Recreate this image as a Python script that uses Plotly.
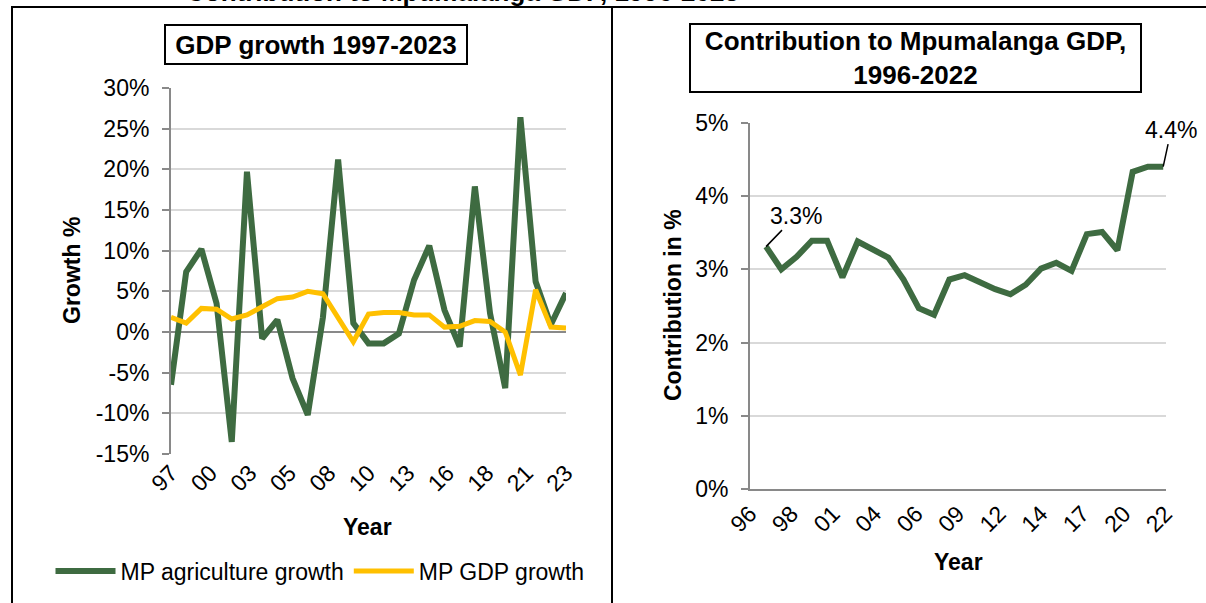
import plotly.graph_objects as go
import numpy as np

W, H = 1206, 603

# ---------------- data ----------------
years_growth = list(range(1997, 2024))
agri_growth = [-6.5, 7.4, 10.2, 3.5, -13.5, 19.7, -0.8, 1.5, -5.7, -10.2, 1.8, 21.2, 1.1,
               -1.4, -1.4, -0.2, 6.4, 10.6, 2.7, -1.8, 17.9, 2.3, -6.9, 26.4, 6.2, 0.9, 4.8]
gdp_growth = [1.8, 1.1, 2.9, 2.8, 1.6, 2.1, 3.1, 4.1, 4.3, 5.0, 4.7, 1.8, -1.2,
              2.2, 2.4, 2.4, 2.1, 2.1, 0.6, 0.7, 1.4, 1.3, 0.0, -5.3, 5.2, 0.6, 0.5]
growth_ticktext = ["97", "00", "03", "05", "08", "10", "13", "16", "18", "21", "23"]
growth_yticks = [-15, -10, -5, 0, 5, 10, 15, 20, 25, 30]

years_contrib = list(range(1996, 2023))
contrib = [3.31, 3.00, 3.17, 3.39, 3.39, 2.89, 3.38, 3.26, 3.16, 2.86, 2.47, 2.38, 2.86, 2.92,
           2.82, 2.73, 2.66, 2.79, 3.01, 3.09, 2.98, 3.48, 3.51, 3.26, 4.33, 4.40, 4.40]
contrib_ticktext = ["96", "98", "01", "04", "06", "09", "12", "14", "17", "20", "22"]
contrib_yticks = [0, 1, 2, 3, 4, 5]

GREEN = "#3E6B41"
YELLOW = "#FFC000"
GRID = "#D9D9D9"
AXIS = "#898989"
FONT = "Liberation Sans, Arial, sans-serif"


def px(x):
    return x / W


def py(y):
    return 1 - y / H


fig = go.Figure()
fig.add_trace(go.Scatter(x=years_growth, y=agri_growth, mode="lines", name="MP agriculture growth",
                         line=dict(color=GREEN, width=6), xaxis="x", yaxis="y"))
fig.add_trace(go.Scatter(x=years_growth, y=gdp_growth, mode="lines", name="MP GDP growth",
                         line=dict(color=YELLOW, width=5), xaxis="x", yaxis="y"))
fig.add_trace(go.Scatter(x=years_contrib, y=contrib, mode="lines", name="Contribution",
                         line=dict(color=GREEN, width=6), xaxis="x2", yaxis="y2", showlegend=False))

gx0, gx1 = years_growth[0], years_growth[-1]
cx0, cx1 = 1994.95, 2022.15

tick_font = dict(family=FONT, size=23, color="black")

fig.update_layout(
    template="none",
    width=W, height=H, autosize=False,
    margin=dict(l=0, r=0, t=0, b=0, pad=0, autoexpand=False),
    paper_bgcolor="white", plot_bgcolor="white",
    font=dict(family=FONT, color="black"),
    xaxis=dict(domain=[px(171), px(566)], range=[gx0, gx1], automargin=False,
               tickmode="array", tickvals=list(np.linspace(gx0, gx1, len(growth_ticktext))),
               ticktext=growth_ticktext, tickangle=-45, tickfont=tick_font,
               showgrid=False, zeroline=False, showline=False, ticks="", anchor="y"),
    yaxis=dict(domain=[py(454), py(88)], range=[-15, 30], automargin=False,
               tickmode="array", tickvals=growth_yticks,
               ticktext=[f"{v}%" for v in growth_yticks], tickfont=tick_font,
               showgrid=True, gridcolor=GRID, gridwidth=2,
               zeroline=True, zerolinecolor=AXIS, zerolinewidth=2,
               showline=True, linecolor=AXIS, linewidth=2,
               ticks="outside", ticklen=7, tickwidth=2, tickcolor=AXIS,
               ticklabelstandoff=8, anchor="x"),
    xaxis2=dict(domain=[px(750), px(1165.5)], range=[cx0, cx1], automargin=False,
                tickmode="array", tickvals=list(np.linspace(cx0, cx1, len(contrib_ticktext))),
                ticktext=contrib_ticktext, tickangle=-45, tickfont=tick_font,
                showgrid=False, zeroline=False, showline=True, linecolor=AXIS, linewidth=2,
                ticks="", anchor="y2"),
    yaxis2=dict(domain=[py(489.3), py(122.7)], range=[0, 5], automargin=False,
                tickmode="array", tickvals=contrib_yticks,
                ticktext=[f"{v}%" for v in contrib_yticks], tickfont=tick_font,
                showgrid=True, gridcolor=GRID, gridwidth=2, zeroline=False,
                showline=True, linecolor=AXIS, linewidth=2,
                ticks="outside", ticklen=7, tickwidth=2, tickcolor=AXIS,
                ticklabelstandoff=8, anchor="x2"),
    legend=dict(orientation="h", x=px(320), xanchor="center", y=py(571), yanchor="middle",
                font=dict(family=FONT, size=23, color="black"), itemwidth=60,
                bgcolor="rgba(0,0,0,0)", borderwidth=0),
    showlegend=True,
)

# table borders
line = dict(color="black", width=2)
fig.add_shape(type="line", xref="paper", yref="paper", x0=px(11), x1=1, y0=py(7), y1=py(7), line=line)
fig.add_shape(type="line", xref="paper", yref="paper", x0=px(12), x1=px(12), y0=0, y1=py(7), line=line)
fig.add_shape(type="line", xref="paper", yref="paper", x0=px(612), x1=px(612), y0=0, y1=py(7), line=line)

annots = []
# cut-off document heading
annots.append(dict(text="<b>Contribution to Mpumalanga GDP, 1996-2023</b>", xref="paper", yref="paper",
                   x=px(462), y=py(8), xanchor="center", yanchor="bottom", showarrow=False,
                   borderpad=0, font=dict(family=FONT, size=26, color="black")))
# chart titles
annots.append(dict(text="<b>GDP growth 1997-2023</b>", xref="paper", yref="paper",
                   x=px(316), y=py(44), xanchor="center", yanchor="middle", showarrow=False,
                   width=298, height=35, borderpad=1, bordercolor="black", borderwidth=2,
                   bgcolor="white", font=dict(family=FONT, size=26, color="black")))
annots.append(dict(text="<b>Contribution to Mpumalanga GDP,<br>1996-2022</b>", xref="paper", yref="paper",
                   x=px(915.5), y=py(58), xanchor="center", yanchor="middle", showarrow=False,
                   width=447, height=64, borderpad=1, bordercolor="black", borderwidth=2,
                   bgcolor="white", font=dict(family=FONT, size=26, color="black")))
# axis titles
annots.append(dict(text="<b>Growth %</b>", xref="paper", yref="paper", x=px(72), y=py(271),
                   xanchor="center", yanchor="middle", textangle=-90, showarrow=False,
                   font=dict(family=FONT, size=23, color="black")))
annots.append(dict(text="<b>Year</b>", xref="paper", yref="paper", x=px(367), y=py(527),
                   xanchor="center", yanchor="middle", showarrow=False,
                   font=dict(family=FONT, size=23, color="black")))
annots.append(dict(text="<b>Contribution in %</b>", xref="paper", yref="paper", x=px(673), y=py(305),
                   xanchor="center", yanchor="middle", textangle=-90, showarrow=False,
                   font=dict(family=FONT, size=23, color="black")))
annots.append(dict(text="<b>Year</b>", xref="paper", yref="paper", x=px(958), y=py(562),
                   xanchor="center", yanchor="middle", showarrow=False,
                   font=dict(family=FONT, size=23, color="black")))
# data labels
annots.append(dict(text=f"{contrib[0]:.1f}%", xref="x2", yref="y2", x=years_contrib[0], y=contrib[0],
                   showarrow=True, arrowhead=0, arrowwidth=1.5, arrowcolor="black", ax=30, ay=-31,
                   font=dict(family=FONT, size=23, color="black")))
annots.append(dict(text=f"{contrib[-1]:.1f}%", xref="x2", yref="y2", x=years_contrib[-1], y=contrib[-1],
                   showarrow=True, arrowhead=0, arrowwidth=1.5, arrowcolor="black", ax=8, ay=-37,
                   font=dict(family=FONT, size=23, color="black")))
fig.update_layout(annotations=annots)

fig.write_html("out.html")
